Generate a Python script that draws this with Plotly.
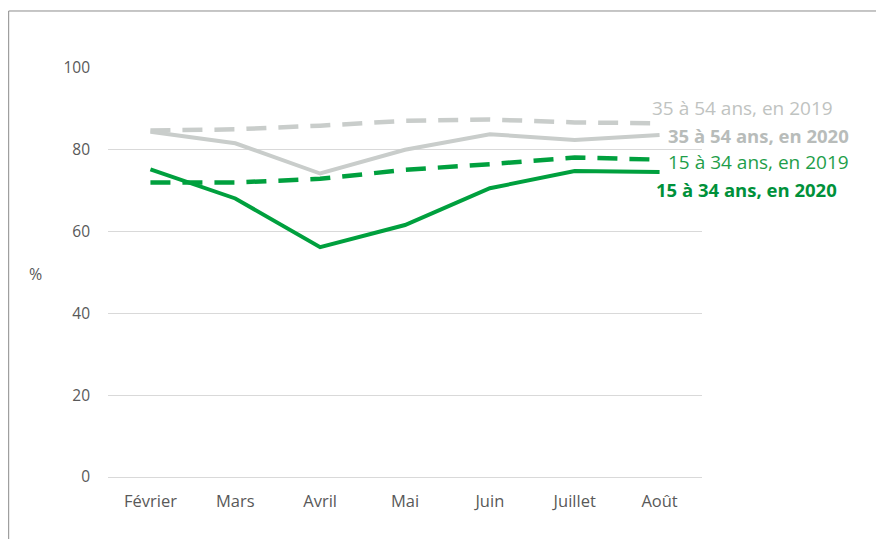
import plotly.graph_objects as go

months = ["Février", "Mars", "Avril", "Mai", "Juin", "Juillet", "Août"]
age35_54_2019 = [84.7, 85.0, 85.9, 87.1, 87.4, 86.7, 86.5]
age35_54_2020 = [84.4, 81.6, 74.2, 80.0, 83.8, 82.4, 83.6]
age15_34_2019 = [72.0, 72.0, 72.9, 75.1, 76.5, 78.1, 77.6]
age15_34_2020 = [75.2, 68.1, 56.2, 61.6, 70.6, 74.8, 74.6]
labels = ["35 à 54 ans, en 2019", "35 à 54 ans, en 2020",
          "15 à 34 ans, en 2019", "15 à 34 ans, en 2020"]

GREEN = "#00A03E"
GRAY = "#C9CDCB"
FONT = "Open Sans"

fig = go.Figure()
fig.add_trace(go.Scatter(x=months, y=age35_54_2019, mode="lines",
                         line=dict(color=GRAY, width=4.5, dash="20px,12px"), name=labels[0]))
fig.add_trace(go.Scatter(x=months, y=age35_54_2020, mode="lines",
                         line=dict(color=GRAY, width=4), name=labels[1]))
fig.add_trace(go.Scatter(x=months, y=age15_34_2019, mode="lines",
                         line=dict(color=GREEN, width=4.5, dash="20px,12px"), name=labels[2]))
fig.add_trace(go.Scatter(x=months, y=age15_34_2020, mode="lines",
                         line=dict(color=GREEN, width=4), name=labels[3]))

ann = [
    dict(text=labels[0], y=age35_54_2019[-1], yshift=15, x=0.913, color="#BFC3C1", bold=False, size=19),
    dict(text=labels[1], y=age35_54_2020[-1], yshift=0, x=0.940, color="#B8BCBA", bold=True, size=18.5),
    dict(text=labels[2], y=age15_34_2019[-1], yshift=-2, x=0.939, color="#1E9E4A", bold=False, size=19),
    dict(text=labels[3], y=age15_34_2020[-1], yshift=-18, x=0.920, color="#00913A", bold=True, size=18.5),
]
annotations = []
for a in ann:
    t = f"<b>{a['text']}</b>" if a["bold"] else a["text"]
    annotations.append(dict(xref="paper", yref="y", x=a["x"], y=a["y"], yshift=a["yshift"],
                            text=t, showarrow=False, xanchor="left", yanchor="middle",
                            font=dict(family=FONT, size=a["size"], color=a["color"])))
annotations.append(dict(xref="paper", yref="paper", x=-0.122, y=0.497, text="%", showarrow=False,
                        xanchor="center", yanchor="middle",
                        font=dict(family=FONT, size=16, color="#595959")))

# page has an 8px body offset; compensate so plot area lands at x 107.5-702.5, y 68-477
fig.update_layout(
    width=876, height=531,
    margin=dict(l=99.5, r=181.5, t=60, b=62),
    paper_bgcolor="white", plot_bgcolor="white",
    showlegend=False,
    annotations=annotations,
    font=dict(family=FONT, color="#595959"),
    shapes=[
        dict(type="line", xref="paper", yref="paper", x0=-0.1672, x1=1.31, y0=1.1394, y1=1.1394,
             line=dict(color="#8C8C8C", width=1)),
        dict(type="line", xref="paper", yref="paper", x0=-0.1672, x1=-0.1672, y0=1.1394, y1=-0.17,
             line=dict(color="#8C8C8C", width=1)),
    ],
)
fig.update_xaxes(showgrid=False, showline=False, zeroline=False, ticks="",
                 tickfont=dict(family=FONT, size=16.5, color="#595959"),
                 ticklabelstandoff=12, range=[-0.5, 6.5])
fig.update_yaxes(range=[0, 100], dtick=20, showgrid=True, gridcolor="#D9D9D9", gridwidth=1,
                 zeroline=True, zerolinecolor="#D9D9D9", zerolinewidth=1, showline=False, ticks="",
                 tickfont=dict(family=FONT, size=15.5, color="#595959"), ticklabelstandoff=17)

fig.write_html("out.html")
